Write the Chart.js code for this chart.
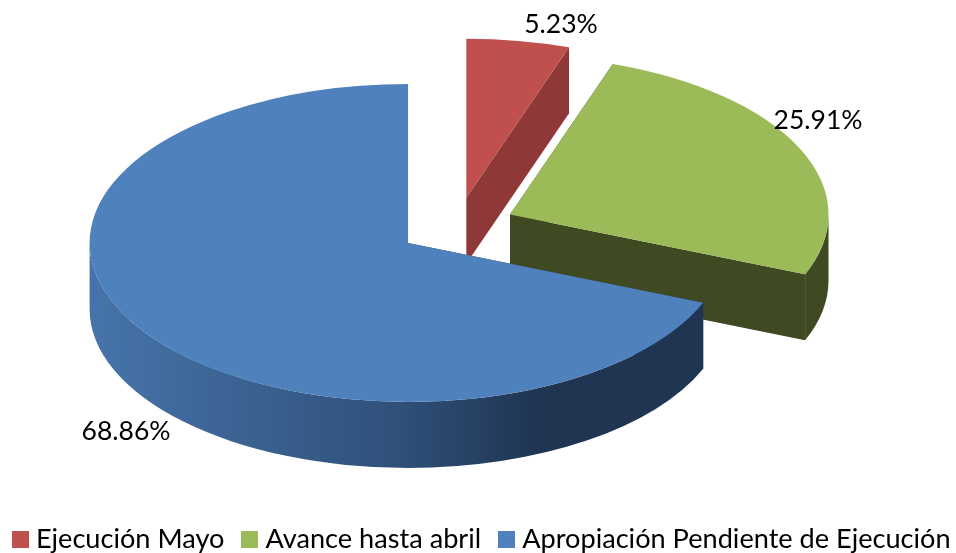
<!DOCTYPE html>
<html>
<head>
<meta charset="utf-8">
<style>
  html, body { margin: 0; padding: 0; background: #fff; }
  canvas { display: block; }
</style>
<script src="https://cdn.jsdelivr.net/npm/chart.js@4/dist/chart.umd.js"></script>
</head>
<body>
<canvas id="pie3d" width="956" height="553"></canvas>
<script>
const categories = ['Ejecución Mayo', 'Avance hasta abril', 'Apropiación Pendiente de Ejecución'];
const shares = [5.23, 25.91, 68.86];

const topColors = ['#C0504D', '#9BBB59', '#4F81BD'];
const wallColors = ['#8E3937', '#3F4A23', null];

// the picture is a tilted pie: chart.js computes the angles, this plugin projects them
const view = { x: 456.7, y: 226.6, rx: 318.5, ry: 159, depth: 66, explode: 0.184 };
const labelSpots = [[561, 24], [818, 120], [126, 431]];

function blueWall(ctx) {
  const g = ctx.createLinearGradient(90, 0, 705, 0);
  g.addColorStop(0, '#4674AA');
  g.addColorStop(0.5, '#2F5079');
  g.addColorStop(0.73, '#1F3552');
  g.addColorStop(1, '#1F3552');
  return g;
}

function drawWalls(ctx, arc, cx, cy, fill) {
  const { startAngle, endAngle } = arc;
  const { rx, ry, depth } = view;
  ctx.fillStyle = fill;
  [startAngle, endAngle].forEach(a => {
    const px = cx + rx * Math.cos(a);
    const py = cy + ry * Math.sin(a);
    ctx.beginPath();
    ctx.moveTo(cx, cy);
    ctx.lineTo(px, py);
    ctx.lineTo(px, py + depth);
    ctx.lineTo(cx, cy + depth);
    ctx.closePath();
    ctx.fill();
  });
  // rim, only the part that faces the viewer
  const from = Math.max(startAngle, 0);
  const to = Math.min(endAngle, Math.PI);
  if (to > from) {
    ctx.beginPath();
    ctx.ellipse(cx, cy, rx, ry, 0, from, to);
    ctx.ellipse(cx, cy + depth, rx, ry, 0, to, from, true);
    ctx.closePath();
    ctx.fill();
  }
}

// legend swatch as an image, so it can sit closer to its text than the built-in box allows
function swatch(color) {
  const c = document.createElement('canvas');
  c.width = 17;
  c.height = 17;
  const x = c.getContext('2d');
  x.fillStyle = color;
  x.fillRect(0, 0, 17, 17);
  return c;
}

const tiltedPie = {
  id: 'tiltedPie',
  beforeDatasetsDraw(chart) {
    const ctx = chart.ctx;
    const arcs = chart.getDatasetMeta(0).data;
    arcs.forEach((arc, i) => {
      const mid = (arc.startAngle + arc.endAngle) / 2;
      const cx = view.x + view.rx * view.explode * Math.cos(mid);
      const cy = view.y + view.ry * view.explode * Math.sin(mid);
      drawWalls(ctx, arc, cx, cy, wallColors[i] || blueWall(ctx));
      ctx.save();
      ctx.translate(cx, cy);
      ctx.scale(view.rx / arc.outerRadius, view.ry / arc.outerRadius);
      ctx.translate(-arc.x, -arc.y);
      arc.draw(ctx);
      ctx.restore();
    });
    return false;
  },
  afterDraw(chart) {
    const ctx = chart.ctx;
    ctx.save();
    ctx.font = '26.5px Lato';
    ctx.fillStyle = '#000';
    ctx.textAlign = 'center';
    ctx.textBaseline = 'middle';
    shares.forEach((v, i) => {
      ctx.fillText(v.toFixed(2) + '%', labelSpots[i][0], labelSpots[i][1]);
    });
    ctx.restore();
  }
};

new Chart(document.getElementById('pie3d'), {
  type: 'pie',
  data: {
    labels: categories,
    datasets: [{
      data: shares,
      backgroundColor: topColors,
      borderWidth: 0,
      offset: 0,
      hoverOffset: 0
    }]
  },
  options: {
    responsive: false,
    animation: false,
    events: [],
    // negative so the wide legend stays on one row and low in the frame
    layout: { padding: { left: -10, right: -23, bottom: -10 } },
    plugins: {
      tooltip: { enabled: false },
      legend: {
        position: 'bottom',
        labels: {
          usePointStyle: true,
          boxWidth: 4,
          boxHeight: 17,
          padding: 23.5,
          color: '#000',
          font: { family: 'Lato', size: 27.15 },
          generateLabels: chart => Chart.overrides.pie.plugins.legend.labels.generateLabels(chart)
            .map((item, i) => ({ ...item, pointStyle: swatch(topColors[i]) }))
        }
      }
    }
  },
  plugins: [tiltedPie]
});
</script>
</body>
</html>
